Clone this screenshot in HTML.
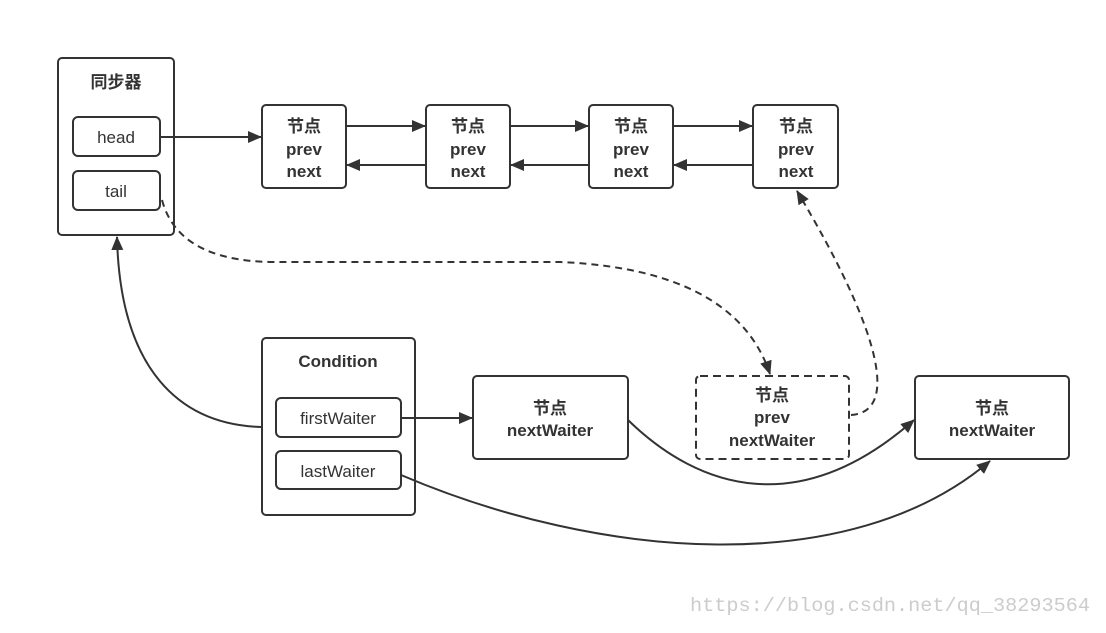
<!DOCTYPE html>
<html><head><meta charset="utf-8"><style>
html,body{margin:0;padding:0;background:#fff;}
svg text{font-family:"Liberation Sans","Noto Sans CJK SC",sans-serif;fill:#333;}
</style></head><body>
<svg width="1106" height="628" viewBox="0 0 1106 628" xmlns="http://www.w3.org/2000/svg">
<defs>
<marker id="a" markerWidth="14" markerHeight="12" refX="13" refY="6" orient="auto" markerUnits="userSpaceOnUse">
<path d="M0,0 L14,6 L0,12 Z" fill="#333"/></marker>
</defs>
<g fill="#fff" stroke="#333" stroke-width="2">
<rect x="58" y="58" width="116" height="177" rx="4"/>
<rect x="73" y="117" width="87" height="39" rx="5"/>
<rect x="73" y="171" width="87" height="39" rx="5"/>
<rect x="262" y="105" width="84" height="83" rx="4"/>
<rect x="426" y="105" width="84" height="83" rx="4"/>
<rect x="589" y="105" width="84" height="83" rx="4"/>
<rect x="753" y="105" width="85" height="83" rx="4"/>
<rect x="262" y="338" width="153" height="177" rx="4"/>
<rect x="276" y="398" width="125" height="39" rx="5"/>
<rect x="276" y="451" width="125" height="38" rx="5"/>
<rect x="473" y="376" width="155" height="83" rx="4"/>
<rect x="696" y="376" width="153" height="83" rx="4" stroke-dasharray="8,5"/>
<rect x="915" y="376" width="154" height="83" rx="4"/>
</g>
<g fill="none" stroke="#333" stroke-width="2">
<path d="M160,137 L261,137" marker-end="url(#a)"/>
<path d="M346,126 L425,126" marker-end="url(#a)"/>
<path d="M426,165 L347,165" marker-end="url(#a)"/>
<path d="M510,126 L588,126" marker-end="url(#a)"/>
<path d="M589,165 L511,165" marker-end="url(#a)"/>
<path d="M673,126 L752,126" marker-end="url(#a)"/>
<path d="M753,165 L674,165" marker-end="url(#a)"/>
<path d="M401,418 L472,418" marker-end="url(#a)"/>
<path d="M262,427 C180,425 120,370 117,237" marker-end="url(#a)"/>
<path d="M628,420 C700,490 800,520 914,420" marker-end="url(#a)"/>
<path d="M401,475 C600,560 850,580 990,461" marker-end="url(#a)"/>
<path d="M162,200 Q178,260 270,262 L560,262 C700,268 752,320 770,374" stroke-dasharray="7,5" marker-end="url(#a)"/>
<path d="M851,415 C900,412 880,330 797,191" stroke-dasharray="7,5" marker-end="url(#a)"/>
</g>
<g text-anchor="middle" font-weight="bold" font-size="17">
<text x="116" y="88">同步器</text>
<text x="304" y="132">节点</text><text x="304" y="155">prev</text><text x="304" y="177">next</text>
<text x="468" y="132">节点</text><text x="468" y="155">prev</text><text x="468" y="177">next</text>
<text x="631" y="132">节点</text><text x="631" y="155">prev</text><text x="631" y="177">next</text>
<text x="796" y="132">节点</text><text x="796" y="155">prev</text><text x="796" y="177">next</text>
<text x="338" y="367">Condition</text>
<text x="550" y="414">节点</text><text x="550" y="436">nextWaiter</text>
<text x="772" y="401">节点</text><text x="772" y="423">prev</text><text x="772" y="446">nextWaiter</text>
<text x="992" y="414">节点</text><text x="992" y="436">nextWaiter</text>
</g>
<g text-anchor="middle" font-size="17">
<text x="116" y="143">head</text>
<text x="116" y="197">tail</text>
<text x="338" y="424">firstWaiter</text>
<text x="338" y="477">lastWaiter</text>
</g>
<text x="690" y="611" font-size="19" textLength="400" lengthAdjust="spacingAndGlyphs" style="fill:#ccc;font-family:'Liberation Mono',monospace">https://blog.csdn.net/qq_38293564</text>
</svg>
</body></html>
